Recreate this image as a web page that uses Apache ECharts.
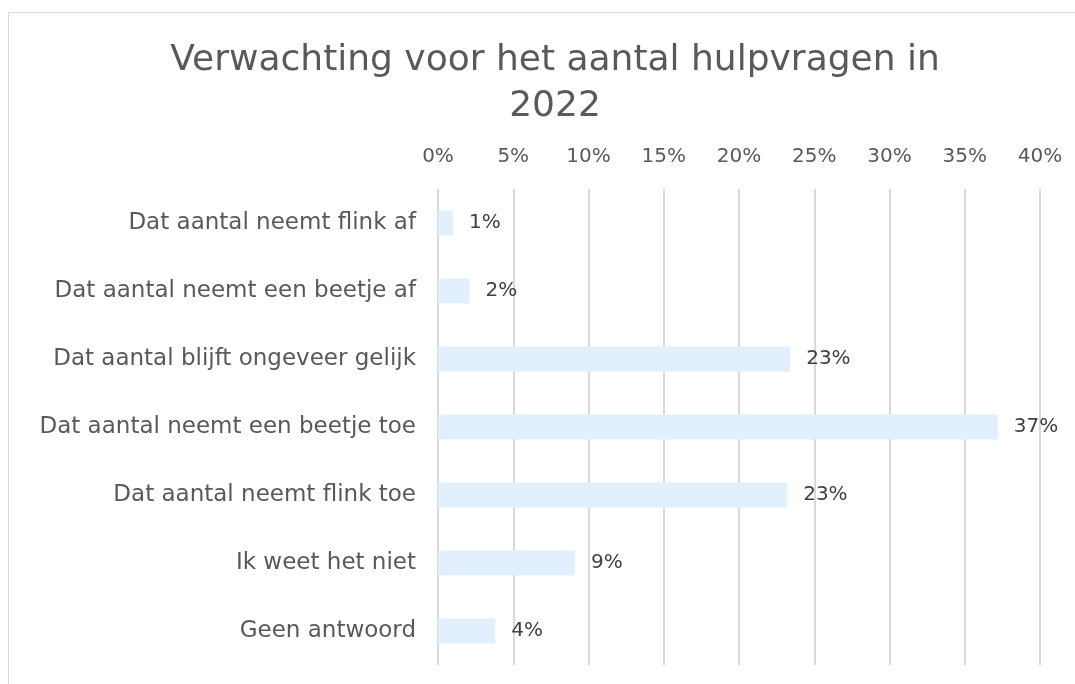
<!DOCTYPE html>
<html><head><meta charset="utf-8">
<script src="https://cdn.jsdelivr.net/npm/echarts@6/dist/echarts.min.js"></script>
<style>html,body{margin:0;padding:0;background:#fff}#c{width:1075px;height:684px}</style>
</head><body><div id="c"></div>
<script>
const categories = ["Dat aantal neemt flink af","Dat aantal neemt een beetje af","Dat aantal blijft ongeveer gelijk","Dat aantal neemt een beetje toe","Dat aantal neemt flink toe","Ik weet het niet","Geen antwoord"];
const values = [0.010, 0.021, 0.234, 0.372, 0.232, 0.091, 0.038];
const ticks = {min: 0, max: 0.4, interval: 0.05};
const font = "'DejaVu Sans', sans-serif";
const chart = echarts.init(document.getElementById('c'), null, {renderer: 'canvas'});
chart.setOption({
  animation: false,
  title: {
    text: 'Verwachting voor het aantal hulpvragen in\n2022',
    left: 550, top: 33, textAlign: 'center',
    textStyle: {fontFamily: font, fontSize: 36, fontWeight: 'normal', color: '#595959', lineHeight: 46}
  },
  graphic: [{type: 'rect', shape: {x: 8.5, y: 12.5, width: 1080, height: 700}, style: {fill: 'none', stroke: '#d9d9d9', lineWidth: 1}, silent: true}],
  grid: {left: 438, right: 35, top: 189, bottom: 19, containLabel: false},
  xAxis: {
    type: 'value', position: 'top', min: ticks.min, max: ticks.max, interval: ticks.interval,
    axisLine: {show: false}, axisTick: {show: false},
    axisLabel: {margin: 22, color: '#595959', fontFamily: font, fontSize: 20, formatter: v => Math.round(v * 100) + '%'},
    splitLine: {lineStyle: {color: '#d9d9d9', width: 2}}
  },
  yAxis: {
    type: 'category', inverse: true, data: categories,
    axisLine: {show: false}, axisTick: {show: false},
    axisLabel: {margin: 22, color: '#595959', fontFamily: font, fontSize: 23}
  },
  series: [{
    type: 'bar', data: values, barWidth: 25,
    itemStyle: {color: '#e2f0fd'},
    label: {show: true, position: 'right', distance: 16, color: '#404040', fontFamily: font, fontSize: 20,
      formatter: p => Math.round(p.value * 100) + '%'}
  }]
});
</script></body></html>
